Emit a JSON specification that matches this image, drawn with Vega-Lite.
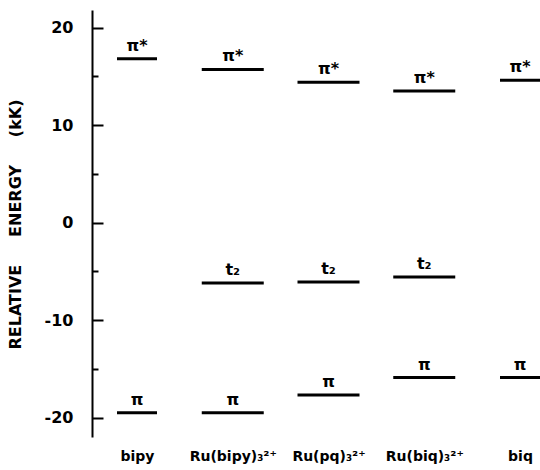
{
  "$schema": "https://vega.github.io/schema/vega-lite/v6.json",
  "autosize": {"type": "none"},
  "padding": {"left": 92, "top": 10, "right": 0, "bottom": 33},
  "width": 448,
  "height": 427,
  "background": "white",
  "config": {
    "view": {"stroke": null},
    "font": "DejaVu Sans"
  },
  "data": {
    "values": [
      {"compound": "bipy", "kind": "ligand", "level": "π*", "energy": 16.8},
      {"compound": "bipy", "kind": "ligand", "level": "π", "energy": -19.5},
      {"compound": "Ru(bipy)₃²⁺", "kind": "complex", "level": "π*", "energy": 15.7},
      {"compound": "Ru(bipy)₃²⁺", "kind": "complex", "level": "t₂", "energy": -6.2},
      {"compound": "Ru(bipy)₃²⁺", "kind": "complex", "level": "π", "energy": -19.5},
      {"compound": "Ru(pq)₃²⁺", "kind": "complex", "level": "π*", "energy": 14.4},
      {"compound": "Ru(pq)₃²⁺", "kind": "complex", "level": "t₂", "energy": -6.1},
      {"compound": "Ru(pq)₃²⁺", "kind": "complex", "level": "π", "energy": -17.7},
      {"compound": "Ru(biq)₃²⁺", "kind": "complex", "level": "π*", "energy": 13.5},
      {"compound": "Ru(biq)₃²⁺", "kind": "complex", "level": "t₂", "energy": -5.6},
      {"compound": "Ru(biq)₃²⁺", "kind": "complex", "level": "π", "energy": -15.9},
      {"compound": "biq", "kind": "ligand", "level": "π*", "energy": 14.6},
      {"compound": "biq", "kind": "ligand", "level": "π", "energy": -15.9}
    ]
  },
  "encoding": {
    "x": {
      "field": "compound",
      "type": "nominal",
      "sort": ["bipy", "Ru(bipy)₃²⁺", "Ru(pq)₃²⁺", "Ru(biq)₃²⁺", "biq"],
      "scale": {"type": "point", "range": [45, 428], "padding": 0},
      "axis": {
        "title": null,
        "domain": false,
        "ticks": false,
        "labelAngle": 0,
        "labelFont": "DejaVu Sans",
        "labelFontWeight": "bold",
        "labelFontSize": 14,
        "labelColor": "black",
        "labelPadding": 12,
        "labelOverlap": false
      }
    }
  },
  "layer": [
    {
      "mark": {"type": "tick", "thickness": 3, "color": "black", "opacity": 1},
      "encoding": {
        "y": {
          "field": "energy",
          "type": "quantitative",
          "scale": {"domain": [-22, 21.8], "nice": false, "zero": false},
          "axis": {
            "orient": "left",
            "title": "RELATIVE\u00a0\u00a0\u00a0\u00a0\u00a0ENERGY\u00a0\u00a0\u00a0\u00a0\u00a0(kK)",
            "titleFont": "DejaVu Sans",
            "titleFontWeight": "bold",
            "titleFontSize": 16,
            "titleColor": "black",
            "titleAngle": -90,
            "titleX": -77,
            "titleY": 214,
            "titleAlign": "center",
            "titleBaseline": "middle",
            "values": [-20, -10, 0, 10, 20],
            "labelExpr": "toString(datum.value)",
            "labelFont": "DejaVu Sans",
            "labelFontWeight": "bold",
            "labelFontSize": 16,
            "labelColor": "black",
            "labelPadding": 30,
            "grid": false,
            "domainColor": "black",
            "domainWidth": 2,
            "tickColor": "black",
            "tickWidth": 2,
            "tickSize": -11
          }
        },
        "size": {
          "field": "kind",
          "type": "nominal",
          "scale": {"domain": ["ligand", "complex"], "range": [40, 62]},
          "legend": null
        }
      }
    },
    {
      "mark": {
        "type": "text",
        "baseline": "alphabetic",
        "align": "center",
        "dy": -8,
        "font": "DejaVu Sans",
        "fontWeight": "bold",
        "fontSize": 16,
        "color": "black"
      },
      "encoding": {
        "y": {
          "field": "energy",
          "type": "quantitative",
          "axis": {
            "orient": "left",
            "title": null,
            "values": [-15, -5, 5, 15],
            "labels": false,
            "domain": false,
            "grid": false,
            "tickColor": "black",
            "tickWidth": 2,
            "tickSize": -6
          }
        },
        "text": {"field": "level", "type": "nominal"}
      }
    }
  ],
  "resolve": {"axis": {"y": "independent"}}
}
